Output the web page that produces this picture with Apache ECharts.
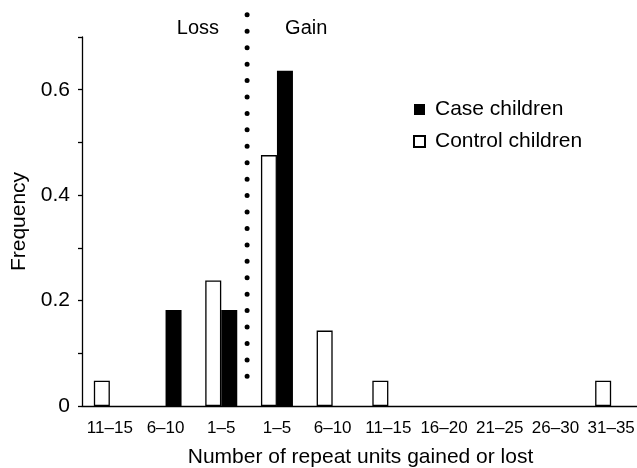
<!DOCTYPE html>
<html>
<head>
<meta charset="utf-8" />
<script src="https://cdn.jsdelivr.net/npm/echarts@6/dist/echarts.min.js"></script>
<style>html,body{margin:0;padding:0;background:#fff}#chart{width:637px;height:468px}</style>
</head>
<body>
<div id="chart"></div>
<script>
var categories = ['11–15', '6–10', '1–5', '1–5', '6–10', '11–15', '16–20', '21–25', '26–30', '31–35'];
var controlValues = [0.048, 0, 0.238, 0.476, 0.143, 0.048, 0, 0, 0, 0.048];
var caseValues = [0, 0.182, 0.182, 0.636, 0, 0, 0, 0, 0, 0];
var yTickLabels = {'0': '0', '0.2': '0.2', '0.4': '0.4', '0.6': '0.6'};

var font = 'Liberation Sans, Arial, sans-serif';
var chart = echarts.init(document.getElementById('chart'));

// empty bins are not drawn (no zero-height stubs on the axis)
function bins(values) {
    return values.map(function (v) { return v === 0 ? '-' : v; });
}

chart.setOption({
    animation: false,
    grid: {left: 82, right: -2, top: 37, bottom: 62, outerBoundsMode: 'none', containLabel: false},
    legend: {
        orient: 'vertical', left: 413, top: 99, padding: 0, itemGap: 11,
        itemWidth: 11, itemHeight: 11, selectedMode: false,
        data: [{name: 'Case children', icon: 'rect'}, {name: 'Control children', icon: 'rect'}],
        textStyle: {fontSize: 21, color: '#000', fontFamily: font, padding: [0, 0, 0, 5]}
    },
    xAxis: {
        type: 'category',
        data: categories,
        name: 'Number of repeat units gained or lost',
        nameLocation: 'middle', nameGap: 41,
        nameTextStyle: {fontSize: 21, color: '#000', fontFamily: font},
        axisLine: {lineStyle: {color: '#000', width: 1.3}},
        axisTick: {alignWithLabel: false, length: 5, lineStyle: {color: '#000', width: 1.3}},
        axisLabel: {fontSize: 17, color: '#000', fontFamily: font, margin: 14, interval: 0}
    },
    yAxis: {
        type: 'value', min: 0, max: 0.7, interval: 0.1,
        name: 'Frequency', nameLocation: 'middle', nameGap: 46,
        nameTextStyle: {fontSize: 21, color: '#000', fontFamily: font},
        axisLine: {show: true, lineStyle: {color: '#000', width: 1.3}},
        axisTick: {show: true, length: 4, lineStyle: {color: '#000', width: 1.3}},
        splitLine: {show: false},
        axisLabel: {
            fontSize: 21, color: '#000', fontFamily: font, margin: 12,
            formatter: function (v) {
                var k = String(Math.round(v * 10) / 10);
                return yTickLabels[k] || '';
            }
        }
    },
    series: [
        {
            name: 'Control children', type: 'bar', data: bins(controlValues),
            barWidth: 16, barGap: '0%',
            itemStyle: {color: '#fff', borderColor: '#000', borderWidth: 1.3}
        },
        {
            name: 'Case children', type: 'bar', data: bins(caseValues),
            barWidth: 16, barGap: '0%',
            itemStyle: {color: '#000', borderColor: '#000', borderWidth: 0}
        }
    ]
});

// dotted divider between loss and gain
var divX = (chart.convertToPixel({xAxisIndex: 0}, 2) + chart.convertToPixel({xAxisIndex: 0}, 3)) / 2 - 2;
var yTop = chart.convertToPixel({yAxisIndex: 0}, 0.742);
var yBot = chart.convertToPixel({yAxisIndex: 0}, 0.027);

chart.setOption({
    graphic: [
        {
            type: 'line', z: 10,
            shape: {x1: divX, y1: yTop, x2: divX, y2: yBot + 0.5},
            style: {stroke: '#000', lineWidth: 5, lineDash: [0, 16.43], lineCap: 'round'}
        },
        {
            type: 'text', x: divX - 28, y: 28,
            style: {text: 'Loss', fontSize: 20, fontFamily: font, fill: '#000', align: 'right', verticalAlign: 'middle'}
        },
        {
            type: 'text', x: divX + 38, y: 28,
            style: {text: 'Gain', fontSize: 20, fontFamily: font, fill: '#000', align: 'left', verticalAlign: 'middle'}
        }
    ]
});
</script>
</body>
</html>
